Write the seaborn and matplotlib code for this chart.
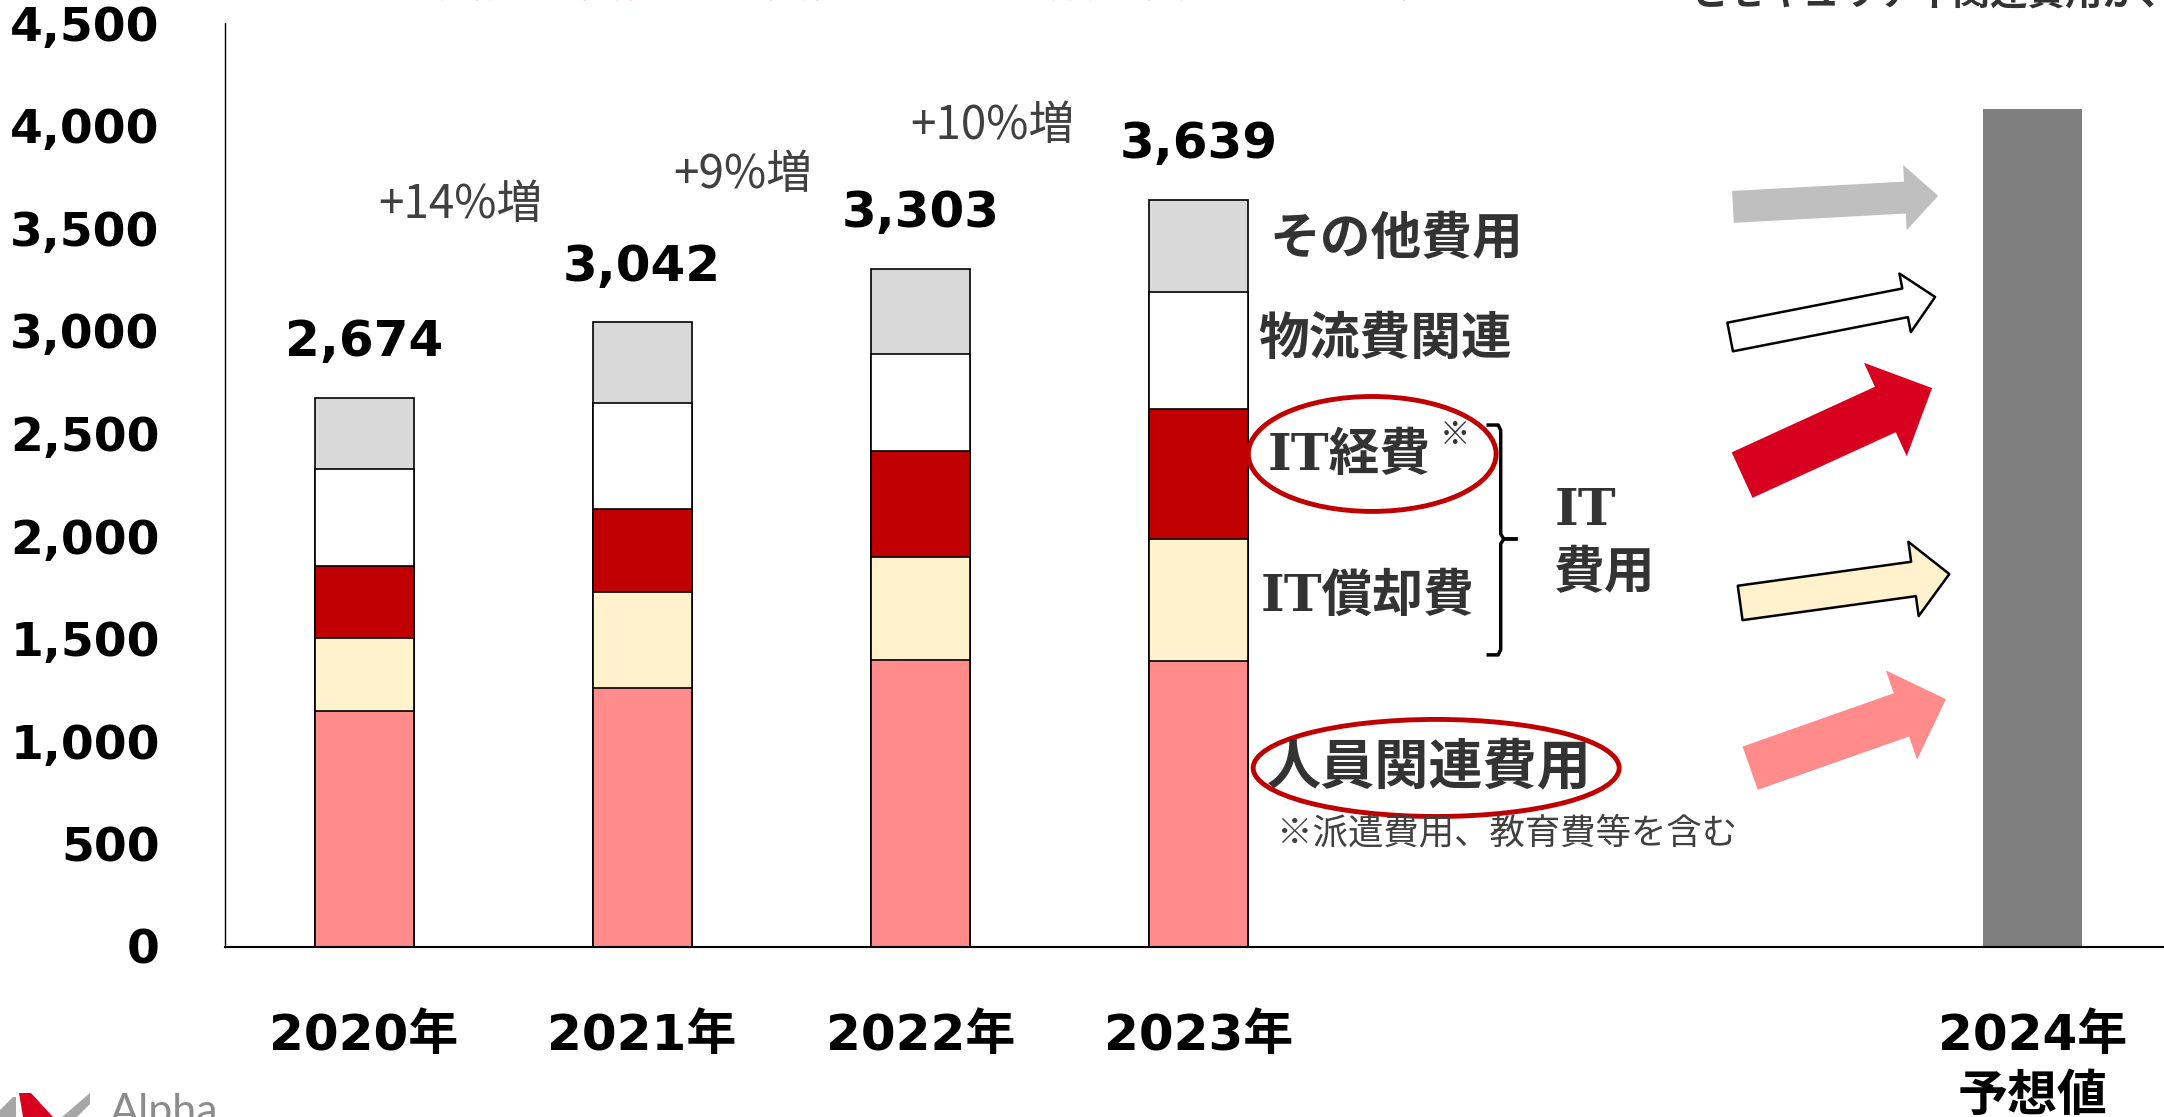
import matplotlib
matplotlib.use("Agg")
import numpy as np
import pandas as pd
import matplotlib.pyplot as plt
import seaborn as sns
from matplotlib.patches import Ellipse, Polygon
from matplotlib.transforms import Affine2D

# --- data ---
years = ["2020年", "2021年", "2022年", "2023年"]
positions = [0, 1, 2, 3]
jinin = [1147, 1262, 1397, 1391]        # 人員関連費用
it_shokyaku = [358, 465, 499, 595]       # IT償却費
it_keihi = [351, 405, 520, 632]          # IT経費
butsuryu = [472, 517, 470, 573]          # 物流費関連
sonota = [346, 393, 417, 448]            # その他費用
totals = [2674, 3042, 3303, 3639]
growth = ["+14%増", "+9%増", "+10%増"]
forecast_label = "2024年\n予想値"
forecast_pos = 6
forecast_value = 4080
yticks = list(range(0, 4501, 500))

layer_names = ["人員関連費用", "IT償却費", "IT経費", "物流費関連", "その他費用"]
layer_colors = ["#ff8b8b", "#fff2cc", "#c00000", "#ffffff", "#d9d9d9"]

df = pd.DataFrame({
    "pos": positions,
    "人員関連費用": jinin,
    "IT償却費": it_shokyaku,
    "IT経費": it_keihi,
    "物流費関連": butsuryu,
    "その他費用": sonota,
})
cum = df[layer_names].cumsum(axis=1)

sns.set_style("white")
plt.rcParams['font.family'] = ['DejaVu Sans', 'Noto Sans CJK JP']
JP = ['Noto Sans CJK JP', 'DejaVu Sans']
IT_FONT = ['DejaVu Serif', 'Noto Sans CJK JP']

W, H = 2164, 1117
fig = plt.figure(figsize=(W / 100, H / 100), dpi=100)
ax = fig.add_axes([225 / W, (H - 946.5) / H, (W - 225) / W, (946.5 - 23) / H])

BAR_W = 0.356
# stacked bars: draw cumulative totals from the top layer down
for name, col in reversed(list(zip(layer_names, layer_colors))):
    sns.barplot(x=df["pos"], y=cum[name], color=col, saturation=1,
                edgecolor="black", linewidth=1.2, width=BAR_W,
                native_scale=True, orient="x", errorbar=None, ax=ax)

sns.barplot(x=[forecast_pos], y=[forecast_value], color="#7f7f7f", saturation=1,
            linewidth=0, width=BAR_W, native_scale=True, orient="x",
            errorbar=None, ax=ax)

# totals above the bars
for p, t in zip(positions, totals):
    ax.text(p, t + 270, f"{t:,}", ha="center", va="center",
            fontsize=36, fontweight="bold", color="black")

# growth rates between the bars
growth_xy = [(0.347, 3614), (1.362, 3760), (2.259, 4000)]
for txt, (gx, gy) in zip(growth, growth_xy):
    ax.text(gx, gy, txt, ha="center", va="center", fontsize=33,
            color="#404040", family=JP)

# category labels next to 2023
label_xy = {
    "その他費用": (3.255, 3443, 36.5, JP),
    "物流費関連": (3.215, 2956, 36.5, JP),
    "IT経費": (3.25, 2388, 36.5, IT_FONT),
    "IT償却費": (3.222, 1701, 36.5, IT_FONT),
    "人員関連費用": (3.245, 872, 39, JP),
}
for name, (lx, ly, fs, fam) in label_xy.items():
    ax.text(lx, ly, name, ha="left", va="center", fontsize=fs,
            fontweight="bold", color="#333333", family=fam)
ax.text(3.923, 2495, "※", ha="center", va="center", fontsize=22,
        color="#333333", family=JP)
ax.text(3.283, 553, "※派遣費用、教育費等を含む", ha="left", va="center",
        fontsize=25.5, color="#404040", family=JP)
ax.text(4.28, 2122, "IT", ha="left", va="center", fontsize=36.5,
        fontweight="bold", color="#333333", family=IT_FONT)
ax.text(4.28, 1815, "費用", ha="left", va="center", fontsize=36.5,
        fontweight="bold", color="#333333", family=JP)

# brace grouping the two IT items
ax.plot([4.036, 4.078, 4.087, 4.087, 4.098, 4.148],
        [2541, 2541, 2515, 2010, 1986, 1986], color="black", lw=2.5,
        solid_capstyle="butt", clip_on=False)
ax.plot([4.148, 4.098, 4.087, 4.087, 4.078, 4.036],
        [1986, 1986, 1962, 1447, 1421, 1421], color="black", lw=2.5,
        solid_capstyle="butt", clip_on=False)

# red ellipses
ax.add_patch(Ellipse((3.625, 2400), 0.891, 560, fill=False,
                     ec="#c00000", lw=3.5))
ax.add_patch(Ellipse((3.855, 870), 1.316, 473, fill=False,
                     ec="#c00000", lw=3.5))

# trend arrows toward the forecast bar
arrows = [
    ((4.922, 3604), (5.660, 3658), "#bfbfbf", "none", 23, 47, 24),
    ((4.912, 2970), (5.649, 3165), "#ffffff", "black", 21, 43, 22),
    ((4.955, 2297), (5.638, 2721), "#d7001f", "none", 36, 74, 37),
    ((4.948, 1674), (5.700, 1815), "#fff2cc", "black", 25, 54, 26),
    ((4.984, 869), (5.688, 1205), "#ff8b8b", "none", 33, 68, 34),
]
for tail, tip, fc, ec, tw, hw, hl in arrows:
    ax.annotate("", xy=tip, xytext=tail,
                arrowprops=dict(arrowstyle=f"simple,head_length={hl},head_width={hw},tail_width={tw}",
                                mutation_scale=1, fc=fc, ec=ec,
                                lw=1.8 if ec != "none" else 0,
                                shrinkA=0, shrinkB=0))

# axes styling
ax.set_xlim(-0.5, 6.472)
ax.set_ylim(0, 4500)
ax.set_xticks(positions + [forecast_pos])
ax.set_xticklabels(years + [forecast_label], fontsize=36, fontweight="bold",
                   linespacing=1.35)
ax.set_yticks(yticks)
ax.set_yticklabels([f"{v:,}" for v in yticks], fontsize=34, fontweight="bold")
ax.tick_params(axis="x", length=0, pad=47, colors="black")
ax.tick_params(axis="y", length=0, pad=47, colors="black")
ax.set_xlabel("")
ax.set_ylabel("")
sns.despine(ax=ax)
ax.spines["left"].set_color("black")
ax.spines["left"].set_linewidth(1.0)
ax.spines["bottom"].set_color("black")
ax.spines["bottom"].set_linewidth(1.5)

# cropped headline text at the very top of the slide
fig.text(390 / W, 1 + 4 / H, "人員関連費用とIT費用の増加が販管費を押し上げ",
         fontsize=34, fontweight="bold", color="#e0002a", family=JP,
         va="baseline")
fig.text(1690 / W, 1 - 5 / H, "とセキュリティ関連費用が、今後も大幅に増加",
         fontsize=27, fontweight="bold", color="#333333", family=JP,
         va="baseline")

# company logo fragment at the bottom-left
px = Affine2D().scale(1 / W, -1 / H).translate(0, 1) + fig.transFigure
logo = [
    ([(0, 1110), (13, 1097), (16, 1097), (16, 1117), (0, 1117)], "#a6a6a6"),
    ([(19, 1093), (31, 1093), (53, 1117), (23, 1117)], "#d7001f"),
    ([(90, 1093), (90, 1104), (77, 1117), (62, 1117)], "#a6a6a6"),
]
for pts, col in logo:
    fig.patches.append(Polygon(pts, closed=True, fc=col, ec="none",
                               transform=px, figure=fig))
fig.text(110 / W, 1 - 1124 / H, "Alpha", fontsize=31, color="#8c8c8c",
         va="baseline", family=["Lato", "DejaVu Sans"])

fig.savefig("out.png", dpi=100, facecolor="white")
